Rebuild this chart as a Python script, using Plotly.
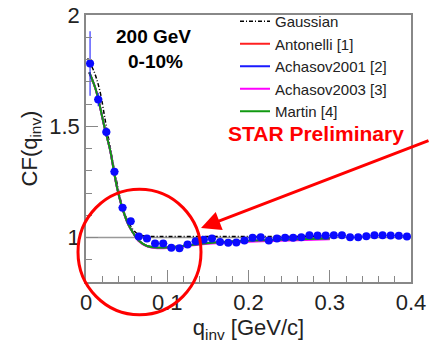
import plotly.graph_objects as go

# ---- data ----
q_data = [0.005, 0.015, 0.025, 0.035, 0.045, 0.055, 0.065, 0.075, 0.085, 0.095,
          0.105, 0.115, 0.125, 0.135, 0.145, 0.155, 0.165, 0.175, 0.185, 0.195,
          0.205, 0.215, 0.225, 0.235, 0.245, 0.255, 0.265, 0.275, 0.285, 0.295,
          0.305, 0.315, 0.325, 0.335, 0.345, 0.355, 0.365, 0.375, 0.385, 0.395]
cf_data = [1.782, 1.620, 1.474, 1.296, 1.134, 1.073, 1.004, 0.995, 0.973, 0.973,
           0.954, 0.952, 0.969, 0.983, 0.990, 0.995, 0.980, 0.976, 0.978, 0.986,
           0.999, 1.001, 0.986, 0.995, 0.999, 0.999, 1.001, 1.010, 1.009, 1.009,
           1.010, 1.010, 1.001, 1.001, 1.006, 1.010, 1.010, 1.009, 1.008, 1.005]
cf_err = [0.145, 0.030, 0.020, 0.015, 0.010, 0.008, 0.006, 0.005, 0.005, 0.005,
          0.004, 0.004, 0.004, 0.004, 0.004, 0.004, 0.004, 0.004, 0.004, 0.004,
          0.004, 0.004, 0.004, 0.004, 0.004, 0.004, 0.004, 0.004, 0.004, 0.004,
          0.004, 0.004, 0.004, 0.004, 0.004, 0.004, 0.004, 0.004, 0.004, 0.004]
q_halfbin = [0.005] * len(q_data)

q_gauss = [0.002, 0.010, 0.017, 0.024, 0.030, 0.037, 0.044, 0.050, 0.057, 0.064,
           0.070, 0.080, 0.100, 0.150, 0.200, 0.250, 0.300]
cf_gauss = [1.805, 1.745, 1.660, 1.520, 1.400, 1.265, 1.150, 1.085, 1.040, 1.015,
            1.008, 1.005, 1.005, 1.005, 1.005, 1.005, 1.005]

q_model = [0.004, 0.012, 0.0234, 0.0295, 0.0378, 0.044, 0.052, 0.058, 0.065, 0.075,
           0.085, 0.100, 0.120, 0.140, 0.160, 0.200, 0.250, 0.300]
cf_antonelli = [1.742, 1.665, 1.486, 1.396, 1.231, 1.141, 1.059, 1.021, 0.985, 0.962,
                0.955, 0.955, 0.962, 0.971, 0.977, 0.984, 0.990, 0.995]
cf_achasov2001 = [1.742, 1.665, 1.486, 1.396, 1.231, 1.141, 1.059, 1.021, 0.985, 0.962,
                  0.955, 0.955, 0.962, 0.971, 0.977, 0.984, 0.990, 0.995]
cf_achasov2003 = [1.741, 1.664, 1.485, 1.395, 1.230, 1.140, 1.058, 1.020, 0.983, 0.960,
                  0.953, 0.953, 0.960, 0.968, 0.974, 0.981, 0.987, 0.992]
cf_martin = [1.742, 1.665, 1.486, 1.396, 1.231, 1.141, 1.059, 1.021, 0.985, 0.962,
             0.955, 0.955, 0.962, 0.971, 0.977, 0.985, 0.991, 0.995]

FONT = "Liberation Sans, Arial, Helvetica, sans-serif"
W, H = 430, 344
L, R, T, B = 86, 19, 15, 62
PW, PH = W - L - R, H - T - B


def px2paper(x, y):
    return (x - L) / PW, (H - B - y) / PH


fig = go.Figure()

fig.add_trace(go.Scatter(x=q_gauss, y=cf_gauss, mode="lines", name="Gaussian",
                         line=dict(color="black", width=1.5, dash="4px,2px,1px,2px", shape="spline")))
fig.add_trace(go.Scatter(x=q_model, y=cf_antonelli, mode="lines", name="Antonelli [1]",
                         line=dict(color="#ff2020", width=2, shape="spline")))
fig.add_trace(go.Scatter(x=q_model, y=cf_achasov2001, mode="lines", name="Achasov2001 [2]",
                         line=dict(color="#1a1aff", width=2, shape="spline")))
fig.add_trace(go.Scatter(x=q_model, y=cf_achasov2003, mode="lines", name="Achasov2003 [3]",
                         line=dict(color="#ff00ff", width=2, shape="spline")))
fig.add_trace(go.Scatter(x=q_model, y=cf_martin, mode="lines", name="Martin [4]",
                         line=dict(color="#109910", width=2, shape="spline")))
fig.add_trace(go.Scatter(x=q_data, y=cf_data, mode="markers", showlegend=False,
                         marker=dict(color="#0a0aff", size=8),
                         error_y=dict(type="data", array=cf_err, color="#0a0aff", thickness=1, width=0),
                         error_x=dict(type="data", array=q_halfbin, color="#0a0aff", thickness=1, width=0)))

axis_common = dict(showgrid=False, zeroline=False, showline=True, linecolor="#888888",
                   linewidth=1.5, mirror=True, ticks="inside", tickcolor="#888888",
                   tickwidth=1, automargin=False,
                   tickfont=dict(family=FONT, size=22, color="#222222"))

fig.update_xaxes(range=[0, 0.4], ticklen=12,
                 tickvals=[0, 0.1, 0.2, 0.3, 0.4], ticktext=["0", "0.1", "0.2", "0.3", "0.4"],
                 minor=dict(dtick=0.02, tick0=0, ticks="inside", ticklen=6, tickcolor="#888888"),
                 title=dict(text="q<sub>inv</sub> [GeV/c]", font=dict(family=FONT, size=22, color="#222222"),
                            standoff=0),
                 **axis_common)
fig.update_yaxes(range=[0.8, 2.0], tickvals=[1, 1.5, 2], ticktext=["1", "1.5", "2"], ticklen=12,
                 minor=dict(dtick=0.1, tick0=0.8, ticks="inside", ticklen=6, tickcolor="#888888"),
                 title=dict(text="CF(q<sub>inv</sub>)", font=dict(family=FONT, size=22, color="#222222"),
                            standoff=6),
                 **axis_common)

shapes = []
shapes.append(dict(type="line", xref="paper", yref="y", x0=0, x1=1, y0=1, y1=1,
                   line=dict(color="#999999", width=1.5), layer="below"))
cx0, cy0 = px2paper(78, 314.7)
cx1, cy1 = px2paper(201, 189.3)
shapes.append(dict(type="circle", xref="paper", yref="paper", x0=cx0, y0=cy0, x1=cx1, y1=cy1,
                   line=dict(color="#ff0000", width=3)))

annotations = []
ax_, ay_ = px2paper(153, 37)
annotations.append(dict(xref="paper", yref="paper", x=ax_, y=ay_, xanchor="center", yanchor="middle",
                        text="<b>200 GeV</b>", showarrow=False,
                        font=dict(family=FONT, size=19, color="black")))
ax_, ay_ = px2paper(155, 62)
annotations.append(dict(xref="paper", yref="paper", x=ax_, y=ay_, xanchor="center", yanchor="middle",
                        text="<b>0-10%</b>", showarrow=False,
                        font=dict(family=FONT, size=19, color="black")))
ax_, ay_ = px2paper(316, 133)
annotations.append(dict(xref="paper", yref="paper", x=ax_, y=ay_, xanchor="center", yanchor="middle",
                        text="<b>STAR Preliminary</b>",
                        showarrow=False, font=dict(family=FONT, size=21, color="#ff0000")))
tx, ty = px2paper(201, 228)
annotations.append(dict(xref="paper", yref="paper", x=tx, y=ty, text="", showarrow=True,
                        ax=229, ay=-88, arrowhead=2, arrowsize=1.3, arrowwidth=3, arrowcolor="#ff0000"))

lx, ly = px2paper(235, 5)
fig.update_layout(
    width=W, height=H,
    margin=dict(l=L, r=R, t=T, b=B, autoexpand=False),
    paper_bgcolor="white", plot_bgcolor="white",
    showlegend=True,
    legend=dict(x=lx, y=ly, xanchor="left", yanchor="top", bgcolor="rgba(0,0,0,0)",
                font=dict(family=FONT, size=15, color="#222222"), tracegroupgap=0,
                itemwidth=30),
    shapes=shapes,
    annotations=annotations,
)

fig.write_html("out.html", config={"displayModeBar": False},
               post_script="document.body.style.margin='0';document.body.style.overflow='hidden';")
